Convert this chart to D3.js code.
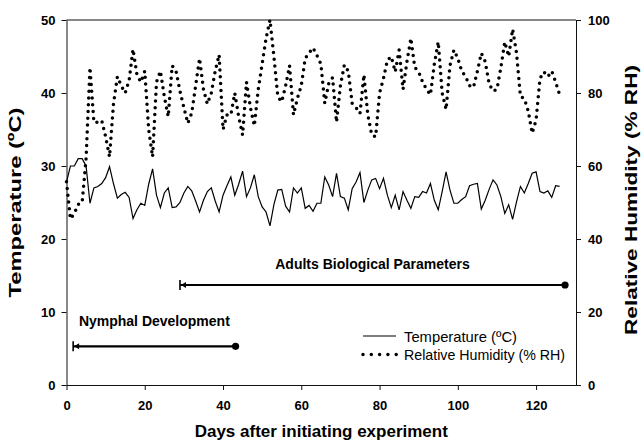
<!DOCTYPE html>
<html>
<head>
<meta charset="utf-8">
<script src="https://cdn.jsdelivr.net/npm/d3@7"></script>
<style>
  body { margin: 0; background: #fff; }
  svg { display: block; font-family: Arial, "Liberation Sans", Helvetica, sans-serif; }
</style>
</head>
<body>
<div id="chart"></div>
<script>
//----------------------------
// Data (one value per day, day 0 .. 126)
//----------------------------

var temperature = [
    27.8, 30.0, 30.0, 31.0, 31.0, 30.0, 24.9, 27.0, 27.2, 27.6,
    28.4, 29.9, 27.6, 25.6, 26.1, 26.4, 25.7, 22.8, 24.0, 24.9,
    24.6, 27.5, 29.6, 26.0, 24.3, 26.3, 27.0, 24.3, 24.4, 25.0,
    26.3, 27.2, 26.6, 25.2, 23.7, 25.3, 26.5, 27.0, 25.2, 23.7,
    26.0, 27.3, 28.5, 26.0, 27.5, 29.3, 25.8, 27.0, 28.8, 25.8,
    24.4, 23.7, 21.8, 24.7, 26.7, 26.8, 24.5, 23.7, 27.0, 26.3,
    27.0, 24.2, 24.6, 23.8, 24.9, 24.9, 28.5, 27.4, 25.8, 29.0,
    25.8, 25.6, 24.0, 26.9, 27.8, 29.1, 25.0, 26.7, 28.1, 28.3,
    26.9, 28.3, 26.0, 24.3, 26.0, 24.0, 26.5, 25.3, 24.2, 25.8,
    25.7, 26.5, 26.3, 27.6, 25.3, 24.0, 26.5, 29.2, 26.7, 24.9,
    24.9, 25.4, 25.8, 27.3, 27.5, 27.6, 24.1, 25.3, 26.8, 28.1,
    27.4, 25.8, 23.5, 24.7, 22.7, 25.1, 27.2, 26.3, 27.6, 29.0,
    29.2, 26.5, 26.3, 26.6, 25.7, 27.3, 27.2
];

var humidity = [
    55.7, 45.5, 47.0, 49.5, 50.0, 62.0, 87.0, 72.0, 72.0, 72.5,
    68.0, 62.5, 77.0, 84.5, 82.0, 80.0, 83.5, 92.0, 85.0, 83.0,
    86.0, 70.0, 62.5, 83.0, 86.0, 79.0, 73.5, 87.5, 86.0, 80.5,
    76.0, 71.7, 74.5, 82.0, 89.5, 81.0, 77.0, 80.0, 86.0, 90.5,
    70.0, 74.0, 74.0, 80.0, 73.5, 68.5, 83.0, 76.0, 71.0, 81.0,
    88.0, 95.0, 100.0, 90.0, 79.0, 77.6, 82.0, 87.5, 74.0, 78.5,
    82.0, 89.5, 91.0, 92.4, 90.3, 88.0, 77.2, 82.5, 84.2, 72.0,
    82.0, 87.7, 86.0, 77.2, 76.0, 74.4, 85.0, 74.0, 68.5, 68.0,
    80.0, 84.0, 89.0, 90.0, 85.8, 91.8, 81.0, 88.6, 95.0, 87.0,
    85.8, 83.0, 81.0, 79.5, 88.0, 94.0, 80.0, 75.5, 87.5, 91.8,
    89.5, 86.0, 84.5, 82.0, 81.5, 86.0, 90.9, 88.6, 82.5, 80.5,
    81.0, 87.0, 94.0, 90.0, 97.5, 91.0, 79.0, 78.5, 75.0, 69.0,
    72.6, 84.0, 85.8, 84.5, 86.0, 83.0, 79.6
];

var xTicks = [0, 20, 40, 60, 80, 100, 120];
var tempTicks = [0, 10, 20, 30, 40, 50];
var rhTicks = [0, 20, 40, 60, 80, 100];

// experiment phases: day range and the temperature level of the bar
var phaseNames = ["Nymphal Development", "Adults Biological Parameters"];
var phaseStart = [1.7, 29.0];
var phaseEnd = [43.2, 127.4];
var phaseLevel = [5.3, 13.7];

var legendNames = ["Temperature (\u00baC)", "Relative Humidity (% RH)"];

//----------------------------
// Chart
//----------------------------

function drawChart() {

    var w = 642, h = 440;
    var plotLeft = 66.5, plotRight = 576, plotTop = 20, plotBottom = 385;

    var x = d3.scaleLinear().domain([0, 130.2]).range([plotLeft, plotRight]);
    var yTemp = d3.scaleLinear().domain([0, 50]).range([plotBottom, plotTop]);
    var yRH = d3.scaleLinear().domain([0, 100]).range([plotBottom, plotTop]);

    var svg = d3.select("#chart")
        .append("svg")
        .attr("width", w)
        .attr("height", h);

    //----------------------------
    // Axes
    //----------------------------

    function styleAxis(g) {
        g.selectAll("path, line").attr("stroke", "#111").attr("stroke-width", 1);
        g.selectAll("text")
            .attr("fill", "#000")
            .attr("font-size", 13)
            .attr("font-weight", "bold")
            .attr("font-family", "Arial, 'Liberation Sans', sans-serif");
    }

    svg.append("g")
        .attr("transform", "translate(0," + plotBottom + ")")
        .call(d3.axisBottom(x).tickValues(xTicks).tickSize(5).tickSizeOuter(0).tickPadding(11))
        .call(styleAxis);

    svg.append("g")
        .attr("transform", "translate(" + plotLeft + ",0)")
        .call(d3.axisLeft(yTemp).tickValues(tempTicks).tickSize(5).tickSizeOuter(0).tickPadding(6))
        .call(styleAxis);

    svg.append("g")
        .attr("transform", "translate(" + plotRight + ",0)")
        .call(d3.axisRight(yRH).tickValues(rhTicks).tickSize(5).tickSizeOuter(0).tickPadding(7))
        .call(styleAxis);

    // top frame
    svg.append("line")
        .attr("x1", plotLeft).attr("x2", plotRight)
        .attr("y1", plotTop).attr("y2", plotTop)
        .attr("stroke", "#111");

    // axis titles
    svg.append("text")
        .attr("x", (plotLeft + plotRight) / 2)
        .attr("y", 437)
        .attr("text-anchor", "middle")
        .attr("font-size", 17)
        .attr("font-weight", "bold")
        .text("Days after initiating experiment");

    svg.append("text")
        .attr("transform", "translate(21," + (plotTop + plotBottom) / 2 + ") rotate(-90)")
        .attr("text-anchor", "middle")
        .attr("font-size", 17)
        .attr("font-weight", "bold")
        .attr("textLength", 190)
        .attr("lengthAdjust", "spacingAndGlyphs")
        .text("Temperature (\u00baC)");

    svg.append("text")
        .attr("transform", "translate(637,200) rotate(-90)")
        .attr("text-anchor", "middle")
        .attr("font-size", 17)
        .attr("font-weight", "bold")
        .attr("textLength", 270)
        .attr("lengthAdjust", "spacingAndGlyphs")
        .text("Relative Humidity (% RH)");

    //----------------------------
    // Series
    //----------------------------

    var tempLine = d3.line()
        .x(function (d, i) { return x(i); })
        .y(function (d) { return yTemp(d); });

    var rhLine = d3.line()
        .x(function (d, i) { return x(i); })
        .y(function (d) { return yRH(d); });

    svg.append("path")
        .datum(temperature)
        .attr("d", tempLine)
        .attr("fill", "none")
        .attr("stroke", "#000")
        .attr("stroke-width", 1.2);

    svg.append("path")
        .datum(humidity)
        .attr("d", rhLine)
        .attr("fill", "none")
        .attr("stroke", "#000")
        .attr("stroke-width", 3.5)
        .attr("stroke-linecap", "round")
        .attr("stroke-dasharray", "0 6.8");

    //----------------------------
    // Phase bars
    //----------------------------

    var labelOffset = [-20.5, -16];

    phaseNames.forEach(function (name, i) {
        var x0 = x(phaseStart[i]), x1 = x(phaseEnd[i]), y = yTemp(phaseLevel[i]);
        var g = svg.append("g");
        g.append("line")
            .attr("x1", x0).attr("x2", x1)
            .attr("y1", y).attr("y2", y)
            .attr("stroke", "#000").attr("stroke-width", 2.2);
        g.append("line")
            .attr("x1", x0).attr("x2", x0)
            .attr("y1", y - 5).attr("y2", y + 5)
            .attr("stroke", "#000").attr("stroke-width", 1.6);
        g.append("path")
            .attr("d", "M" + (x0 + 1) + "," + y + "L" + (x0 + 6) + "," + (y - 3) + "L" + (x0 + 6) + "," + (y + 3) + "Z")
            .attr("fill", "#000");
        g.append("circle")
            .attr("cx", x1).attr("cy", y).attr("r", 3.6)
            .attr("fill", "#000");
        g.append("text")
            .attr("x", (x0 + x1) / 2)
            .attr("y", y + labelOffset[i])
            .attr("text-anchor", "middle")
            .attr("font-size", 14)
            .attr("font-weight", "bold")
            .text(name);
    });

    //----------------------------
    // Legend
    //----------------------------

    var legend = svg.append("g").attr("transform", "translate(363,336)");

    legend.append("line")
        .attr("x1", 0).attr("x2", 33).attr("y1", 0).attr("y2", 0)
        .attr("stroke", "#000").attr("stroke-width", 1.2);

    legend.append("path")
        .attr("d", "M0,18.5H33.5")
        .attr("stroke", "#000")
        .attr("stroke-width", 3.5)
        .attr("stroke-linecap", "round")
        .attr("stroke-dasharray", "0 8.3");

    legend.selectAll("text.legend")
        .data(legendNames)
        .enter()
        .append("text")
        .attr("class", "legend")
        .attr("x", 41)
        .attr("y", function (d, i) { return 5.5 + i * 18.5; })
        .attr("font-size", 15)
        .attr("textLength", function (d, i) { return i === 0 ? 113 : 161; })
        .attr("lengthAdjust", "spacingAndGlyphs")
        .text(function (d) { return d; });
}

drawChart();
</script>
</body>
</html>
